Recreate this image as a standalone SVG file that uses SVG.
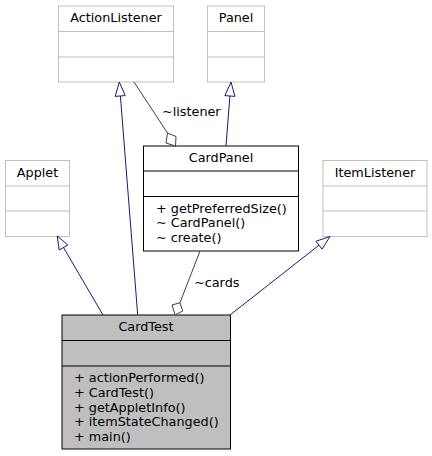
<svg xmlns="http://www.w3.org/2000/svg" width="432" height="456" viewBox="0 0 432 456">
<style>
text{font-family:"DejaVu Sans",sans-serif;font-size:12.8px;fill:#000}
.c{text-anchor:middle}
.ext rect,.ext line{stroke:#bfbfbf;fill:#fff}
.cls rect,.cls line{stroke:#000;fill:#fff}
.main rect{fill:#bfbfbf;stroke:#000}
.main line{stroke:#000}
.inh{stroke:#191970;fill:none}
.inhh{stroke:#191970;fill:#fff}
.agg{stroke:#404040;fill:none}
.aggh{stroke:#404040;fill:#fff}
</style>
<rect width="432" height="456" fill="#fff"/>
<g id="ActionListener" class="ext">
<rect x="58.5" y="6" width="115" height="76"/>
<line x1="58.5" y1="31.5" x2="173.5" y2="31.5"/>
<line x1="58.5" y1="57" x2="173.5" y2="57"/>
<text class="c" x="116" y="22">ActionListener</text>
</g>
<g id="Panel" class="ext">
<rect x="207.5" y="6" width="57" height="76"/>
<line x1="207.5" y1="31.5" x2="264.5" y2="31.5"/>
<line x1="207.5" y1="57" x2="264.5" y2="57"/>
<text class="c" x="236" y="22">Panel</text>
</g>
<g id="Applet" class="ext">
<rect x="5.5" y="160.5" width="64" height="76"/>
<line x1="5.5" y1="186" x2="69.5" y2="186"/>
<line x1="5.5" y1="211" x2="69.5" y2="211"/>
<text class="c" x="37.5" y="177">Applet</text>
</g>
<g id="ItemListener" class="ext">
<rect x="323" y="160.5" width="104" height="76"/>
<line x1="323" y1="186" x2="427" y2="186"/>
<line x1="323" y1="211" x2="427" y2="211"/>
<text class="c" x="375" y="177">ItemListener</text>
</g>
<g id="CardPanel" class="cls">
<rect x="143.5" y="146" width="155" height="105"/>
<line x1="143.5" y1="171" x2="298.5" y2="171"/>
<line x1="143.5" y1="196.5" x2="298.5" y2="196.5"/>
<text class="c" x="221" y="162">CardPanel</text>
<text x="156" y="212.5">+ getPreferredSize()</text>
<text x="156" y="227">~ CardPanel()</text>
<text x="156" y="241.5">~ create()</text>
</g>
<g id="CardTest" class="main">
<rect x="62" y="315" width="168.5" height="134"/>
<line x1="62" y1="340.5" x2="230.5" y2="340.5"/>
<line x1="62" y1="366" x2="230.5" y2="366"/>
<text class="c" x="146" y="330.5">CardTest</text>
<text x="74" y="381.5">+ actionPerformed()</text>
<text x="74" y="396.5">+ CardTest()</text>
<text x="74" y="411.5">+ getAppletInfo()</text>
<text x="74" y="426">+ itemStateChanged()</text>
<text x="74" y="440.5">+ main()</text>
</g>
<g id="connectors">
<path class="inh" d="M137.7,315 L120.4,96"/>
<polygon class="inhh" points="119.3,82 125.2,95.6 115.2,96.4"/>
<path class="inh" d="M103,315 L63.5,247.5"/>
<polygon class="inhh" points="57.3,236 67.8,245 59.2,250"/>
<path class="inh" d="M230,315 L319,245.2"/>
<polygon class="inhh" points="330,236.5 322.1,249.1 315.9,241.3"/>
<path class="inh" d="M226,146 L229.9,96"/>
<polygon class="inhh" points="231,82 234.9,96.4 224.9,95.6"/>
<path class="agg" d="M134,82 L167.5,133"/>
<polygon class="aggh" points="167.5,133 176,136.5 175.5,146 166,143"/>
<text x="162" y="116">~listener</text>
<path class="agg" d="M200,251 L180,302.7"/>
<polygon class="aggh" points="180,302.7 182.7,311 175,315 172,305"/>
<text x="194" y="287">~cards</text>
</g>
</svg>
